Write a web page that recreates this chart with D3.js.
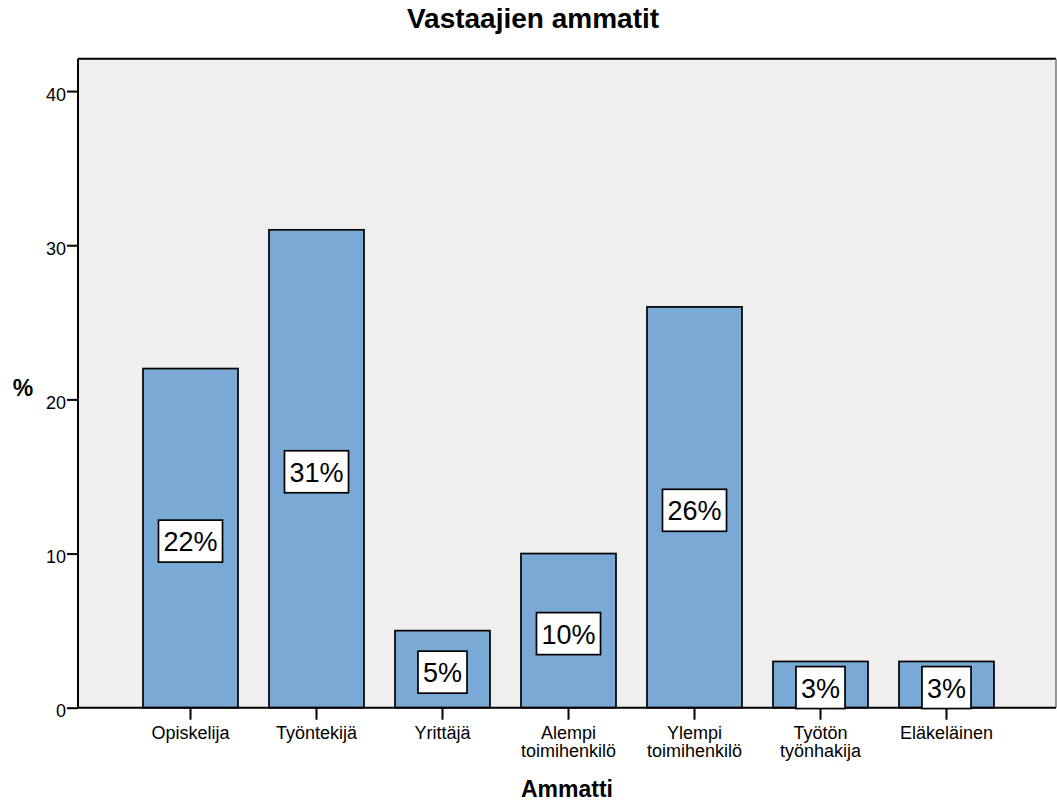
<!DOCTYPE html>
<html><head><meta charset="utf-8">
<script src="https://cdn.jsdelivr.net/npm/d3@7"></script>
<style>body{margin:0;background:#fff}svg{display:block;font-family:Arial,"Liberation Sans",sans-serif}</style>
</head><body>
<svg id="c" width="1057" height="803"></svg>
<script>
const categories = [["Opiskelija"],["Työntekijä"],["Yrittäjä"],["Alempi","toimihenkilö"],["Ylempi","toimihenkilö"],["Työtön","työnhakija"],["Eläkeläinen"]];
const values = [22, 31, 5, 10, 26, 3, 3];
const valueLabels = ["22%","31%","5%","10%","26%","3%","3%"];
const yTicks = [0, 10, 20, 30, 40];
const title = "Vastaajien ammatit";
const xTitle = "Ammatti";
const yTitle = "%";

const svg = d3.select("#c");
const L = 78, R = 1056, T = 58.7, B = 707.7;
const keys = categories.map(c => c.join(" "));
const x = d3.scaleBand().domain(keys).range([127.5, 1009.5]).paddingInner(0.246).paddingOuter(0.123);
const y = d3.scaleLinear().domain([0, 42.1]).range([B, T]);

svg.append("rect").attr("x", L).attr("y", T).attr("width", R - L).attr("height", B - T).attr("fill", "#efefef");
svg.append("line").attr("x1", L).attr("x2", R).attr("y1", T).attr("y2", T).attr("stroke", "#000").attr("stroke-width", 2);
svg.append("line").attr("x1", R).attr("x2", R).attr("y1", T).attr("y2", B).attr("stroke", "#777").attr("stroke-width", 1.5);

svg.selectAll("rect.bar").data(values).join("rect").attr("class", "bar")
  .attr("x", (d, i) => x(keys[i])).attr("width", x.bandwidth())
  .attr("y", d => y(d)).attr("height", d => B - y(d))
  .attr("fill", "#7aa9d6").attr("stroke", "#000").attr("stroke-width", 1.7);

// Y axis
const ya = svg.append("g").attr("transform", `translate(${L},0)`)
  .call(d3.axisLeft(y).tickValues(yTicks).tickSize(11).tickPadding(1).tickFormat(d3.format("d")));
ya.select(".domain").attr("stroke-width", 2).attr("d", `M0,${T}V${B}`);
ya.selectAll(".tick line").attr("stroke-width", 2);
ya.selectAll(".tick text").attr("font-size", 18).attr("font-family", "Arial, 'Liberation Sans', sans-serif").attr("fill", "#000").attr("dy", "0.5em");

// X axis
const xa = svg.append("g").attr("transform", `translate(0,${B})`)
  .call(d3.axisBottom(x).tickSize(12).tickFormat(""));
xa.select(".domain").attr("stroke-width", 2).attr("d", `M${L},0H${R}`);
xa.selectAll(".tick line").attr("stroke-width", 2);
xa.selectAll(".tick").each(function(d, i) {
  const t = d3.select(this).append("text").attr("fill", "#000").attr("font-size", 18)
    .attr("text-anchor", "middle").attr("font-family", "Arial, 'Liberation Sans', sans-serif");
  categories[i].forEach((line, j) => t.append("tspan").attr("x", 0).attr("y", 31 + j * 18).text(line));
});

// value labels
values.forEach((v, i) => {
  const cx = x(keys[i]) + x.bandwidth() / 2;
  const cy = (y(v) + B) / 2 + 3;
  const g = svg.append("g");
  const r = g.append("rect");
  const t = g.append("text").attr("x", cx).attr("y", cy + 10).attr("text-anchor", "middle")
    .attr("font-size", 27).attr("fill", "#000").text(valueLabels[i]);
  const w = t.node().getComputedTextLength() + 10;
  r.attr("x", cx - w / 2).attr("y", cy - 21).attr("width", w).attr("height", 42)
    .attr("fill", "#fff").attr("stroke", "#000").attr("stroke-width", 1.7);
});

svg.append("text").attr("x", 533).attr("y", 28).attr("text-anchor", "middle").attr("font-weight", "bold").attr("font-size", 28).text(title);
svg.append("text").attr("x", 567).attr("y", 797).attr("text-anchor", "middle").attr("font-weight", "bold").attr("font-size", 23).text(xTitle);
svg.append("text").attr("x", 23).attr("y", 396).attr("text-anchor", "middle").attr("font-weight", "bold").attr("font-size", 23).text(yTitle);
</script>
</body></html>
